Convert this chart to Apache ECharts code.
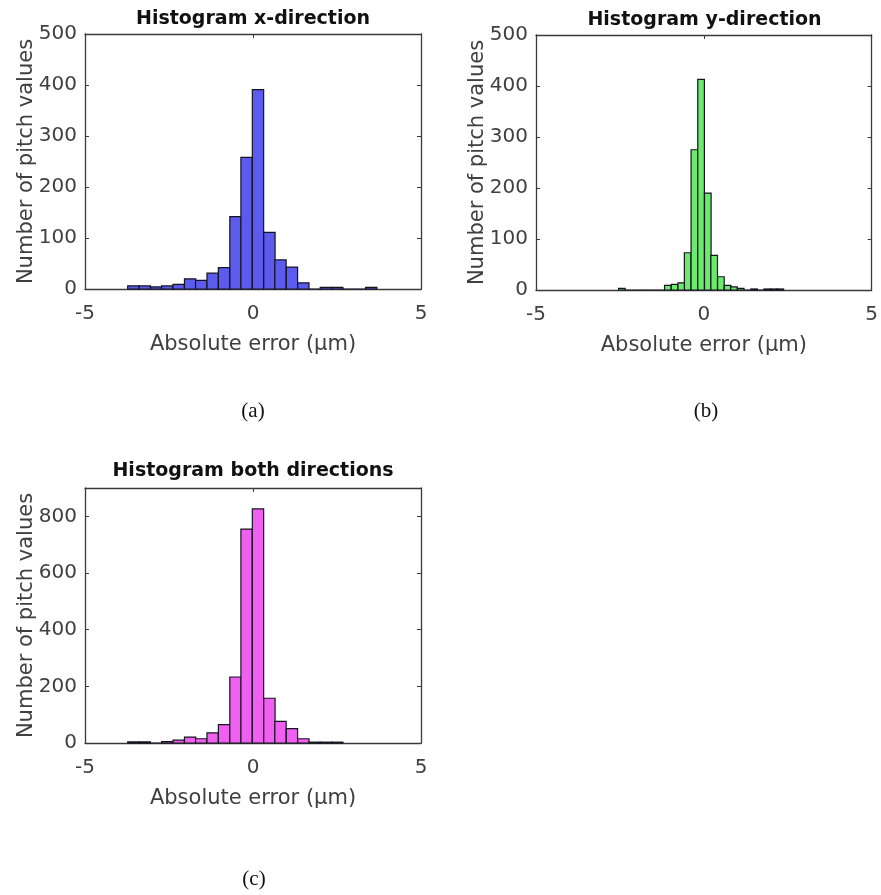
<!DOCTYPE html>
<html>
<head>
<meta charset="utf-8">
<script src="https://cdn.jsdelivr.net/npm/echarts@6/dist/echarts.min.js"></script>
<style>
html,body{margin:0;padding:0;background:#fff;}
#chart{width:881px;height:895px;}
</style>
</head>
<body>
<div id="chart"></div>
<script>
// ---- Data ----
// (a) x-direction histogram
const xBinEdges = [-3.73, -3.39, -3.05, -2.72, -2.38, -2.04, -1.71, -1.37, -1.03, -0.69, -0.36, -0.02, 0.32, 0.65, 0.99, 1.33, 1.66, 2.00, 2.34, 2.68, 3.01, 3.35];
const xBinWidth = 0.337;
const xCounts = [6, 6, 4, 6, 9, 20, 17, 31, 42, 142, 258, 391, 111, 57, 43, 12, 0, 3, 3, 0, 0, 3];

// (b) y-direction histogram
const yBinEdges = [-2.54, -2.35, -2.15, -1.95, -1.76, -1.56, -1.36, -1.17, -0.97, -0.77, -0.58, -0.38, -0.18, 0.02, 0.21, 0.41, 0.61, 0.80, 1.00, 1.20, 1.40, 1.59, 1.79, 1.99, 2.18];
const yBinWidth = 0.197;
const yCounts = [3, 0, 0, 0, 0, 0, 0, 9, 11, 14, 73, 275, 413, 190, 68, 26, 9, 6, 3, 0, 2, 0, 2, 2, 2];

// (c) both directions histogram
const bBinEdges = [-3.73, -3.39, -3.05, -2.72, -2.38, -2.04, -1.71, -1.37, -1.03, -0.69, -0.36, -0.02, 0.32, 0.65, 0.99, 1.33, 1.66, 2.00, 2.34];
const bBinWidth = 0.337;
const bCounts = [4, 4, 0, 5, 10, 21, 15, 36, 65, 233, 755, 826, 158, 76, 51, 15, 3, 3, 3];

const titles = ['Histogram x-direction', 'Histogram y-direction', 'Histogram both directions'];
const captions = ['(a)', '(b)', '(c)'];
const xName = 'Absolute error (µm)';
const yName = 'Number of pitch values';
const xTicks = [-5, 0, 5];
const yMaxes = [500, 500, 900];
const yIntervals = [100, 100, 200];

// ---- Build chart ----
const FONT = 'DejaVu Sans';
const AX = '#3a3a3a';
const LBL = '#404040';
const grids = [
  {left: 85, top: 34, width: 336, height: 255},
  {left: 536, top: 35, width: 337, height: 255},
  {left: 85, top: 488, width: 336, height: 255}
];
const titleOffsets = [15, 15, 17];
const fills = ['#5b5bee', '#6bea6b', '#f060f0'];
const datasets = [
  xBinEdges.map((e, i) => [e, e + xBinWidth, xCounts[i]]),
  yBinEdges.map((e, i) => [e, e + yBinWidth, yCounts[i]]),
  bBinEdges.map((e, i) => [e, e + bBinWidth, bCounts[i]])
];

const xAxes = [], yAxes = [], series = [], graphics = [];
grids.forEach((g, i) => {
  const common = {gridIndex: i, min: -5, max: 5, interval: 5};
  xAxes.push(Object.assign({
    type: 'value', position: 'bottom',
    name: xName, nameLocation: 'middle', nameGap: 45, nameMoveOverlap: false,
    nameTextStyle: {fontFamily: FONT, fontSize: 21, color: LBL},
    axisLine: {show: true, onZero: false, lineStyle: {color: AX, width: 1.3}},
    axisTick: {show: true, inside: true, length: 4, lineStyle: {color: AX}},
    axisLabel: {show: true, margin: 15, fontFamily: FONT, fontSize: 20, color: LBL,
      formatter: v => (xTicks.indexOf(v) >= 0 ? String(v) : '')},
    splitLine: {show: false}
  }, common));
  xAxes.push(Object.assign({
    type: 'value', position: 'top',
    axisLine: {show: true, onZero: false, lineStyle: {color: AX, width: 1.3}},
    axisTick: {show: true, inside: true, length: 4, lineStyle: {color: AX}},
    axisLabel: {show: false}, splitLine: {show: false}
  }, common));
  const yc = {gridIndex: i, min: 0, max: yMaxes[i], interval: yIntervals[i]};
  yAxes.push(Object.assign({
    type: 'value', position: 'left',
    name: yName, nameLocation: 'middle', nameGap: 48, nameMoveOverlap: false,
    nameTextStyle: {fontFamily: FONT, fontSize: 21, color: LBL},
    axisLine: {show: true, onZero: false, lineStyle: {color: AX, width: 1.3}},
    axisTick: {show: true, inside: true, length: 4, lineStyle: {color: AX}},
    axisLabel: {show: true, margin: 8, fontFamily: FONT, fontSize: 20, color: LBL,
      showMaxLabel: yMaxes[i] % yIntervals[i] === 0},
    splitLine: {show: false}
  }, yc));
  yAxes.push(Object.assign({
    type: 'value', position: 'right',
    axisLine: {show: true, onZero: false, lineStyle: {color: AX, width: 1.3}},
    axisTick: {show: true, inside: true, length: 4, lineStyle: {color: AX}},
    axisLabel: {show: false}, splitLine: {show: false}
  }, yc));
  series.push({
    type: 'custom',
    xAxisIndex: i * 2, yAxisIndex: i * 2,
    itemStyle: {color: fills[i]},
    encode: {x: [0, 1], y: 2},
    data: datasets[i],
    renderItem: function (params, api) {
      const p0 = api.coord([api.value(0), api.value(2)]);
      const p1 = api.coord([api.value(1), 0]);
      return {
        type: 'rect',
        shape: {x: p0[0], y: p0[1], width: p1[0] - p0[0], height: p1[1] - p0[1]},
        style: {fill: fills[i], stroke: '#141420', lineWidth: 1.2}
      };
    }
  });
  graphics.push({
    type: 'text', x: g.left + g.width / 2, y: g.top - titleOffsets[i],
    style: {text: titles[i], font: 'bold 19px "DejaVu Sans"', fill: '#111', textAlign: 'center', textVerticalAlign: 'middle'}
  });
});
graphics.push({type: 'text', x: 253, y: 411, style: {text: captions[0], font: '21px "Liberation Serif"', fill: '#111', textAlign: 'center', textVerticalAlign: 'middle'}});
graphics.push({type: 'text', x: 706, y: 411, style: {text: captions[1], font: '21px "Liberation Serif"', fill: '#111', textAlign: 'center', textVerticalAlign: 'middle'}});
graphics.push({type: 'text', x: 254, y: 879, style: {text: captions[2], font: '21px "Liberation Serif"', fill: '#111', textAlign: 'center', textVerticalAlign: 'middle'}});

const chart = echarts.init(document.getElementById('chart'), null, {renderer: 'canvas'});
chart.setOption({
  animation: false,
  backgroundColor: '#ffffff',
  grid: grids,
  xAxis: xAxes,
  yAxis: yAxes,
  series: series,
  graphic: graphics
});
</script>
</body>
</html>
